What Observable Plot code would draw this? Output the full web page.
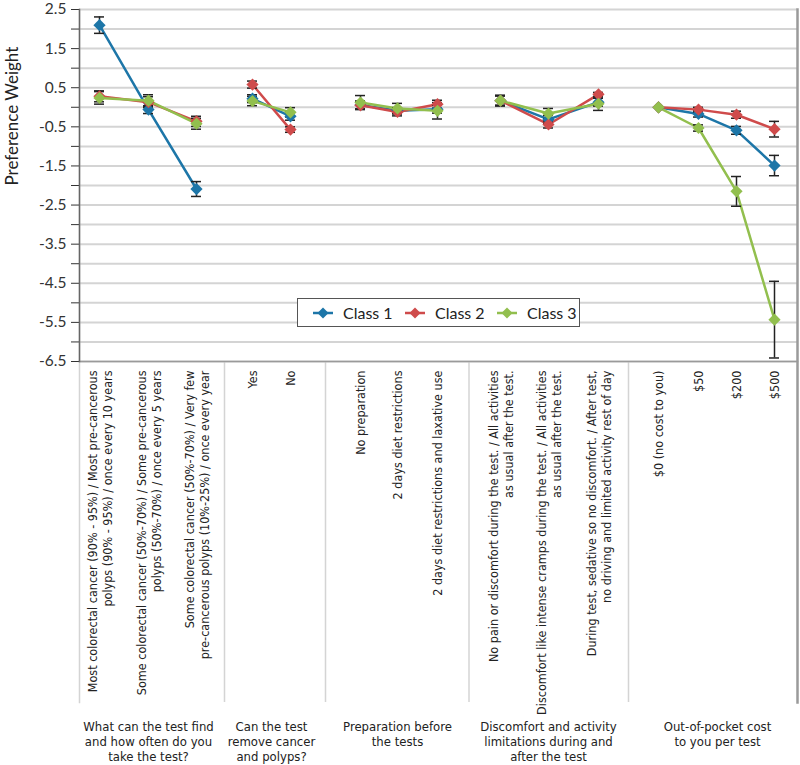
<!DOCTYPE html>
<html>
<head>
<meta charset="utf-8">
<script src="https://cdn.jsdelivr.net/npm/d3@7"></script>
<script src="https://cdn.jsdelivr.net/npm/@observablehq/plot@0.6"></script>
<style>
  body { margin: 0; background: #fff; }
  #wrap { position: relative; width: 800px; height: 765px; }
  #legend { position: absolute; left: 297px; top: 298px; width: 281px; height: 27px;
            border: 1.5px solid #555; background: #fff; font-family: Lato, sans-serif;
            font-size: 16px; color: #222; }
  .item { position: absolute; top: 0; height: 27px; display: flex; align-items: center; }
  .item span { margin-left: 9px; }
</style>
</head>
<body>
<div id="wrap"><div id="legend"></div></div>
<script>
// ---------- data ----------
const categories = [
  "Most colorectal cancer (90% - 95%) / Most pre-cancerous\npolyps (90% - 95%) / once every 10 years",
  "Some colorectal cancer (50%-70%) / Some pre-cancerous\npolyps (50%-70%) / once every 5 years",
  "Some colorectal cancer (50%-70%) / Very few\npre-cancerous polyps (10%-25%) / once every year",
  "Yes",
  "No",
  "No preparation",
  "2 days diet restrictions",
  "2 days diet restrictions and laxative use",
  "No pain or discomfort during the test. / All activities\nas usual after the test.",
  "Discomfort like intense cramps during the test. / All activities\nas usual after the test.",
  "During test, sedative so no discomfort. / After test,\nno driving and limited activity rest of day",
  "$0 (no cost to you)",
  "$50",
  "$200",
  "$500"
];
const groupNames = [
  "What can the test find\nand how often do you\ntake the test?",
  "Can the test\nremove cancer\nand polyps?",
  "Preparation before\nthe tests",
  "Discomfort and activity\nlimitations during and\nafter the test",
  "Out-of-pocket cost\nto you per test"
];
const groupSizes = [3, 2, 3, 3, 4];
const seriesNames = ["Class 1", "Class 2", "Class 3"];

const class1 = [2.10, -0.06, -2.09, 0.22, -0.23, 0.06, -0.09, -0.05, 0.17, -0.31, 0.13, 0, -0.17, -0.59, -1.49];
const class2 = [0.28, 0.13, -0.36, 0.58, -0.57, 0.05, -0.12, 0.08, 0.17, -0.44, 0.33, 0, -0.06, -0.19, -0.56];
const class3 = [0.24, 0.17, -0.42, 0.16, -0.13, 0.12, -0.03, -0.09, 0.17, -0.16, 0.09, 0, -0.53, -2.15, -5.43];

const err1 = [0.21, 0.10, 0.19, 0.10, 0.10, 0.10, 0.08, 0.10, 0.12, 0.10, 0.10, 0, 0.08, 0.10, 0.26];
const err2 = [0.14, 0.14, 0.13, 0.09, 0.07, 0.10, 0.10, 0.10, 0.12, 0.09, 0.05, 0, 0.06, 0.09, 0.20];
const err3 = [0.16, 0.15, 0.14, 0.12, 0.12, 0.18, 0.13, 0.21, 0.14, 0.13, 0.17, 0, 0.08, 0.38, 0.98];

const yTicks = d3.range(-6.5, 2.51, 0.5);

// ---------- styles ----------
const colors = ["#1d76a8", "#cf4b4b", "#92bf4e"];
// category slot positions (layout of the original, uneven slot widths)
const xRange = [99, 148, 196, 252, 290, 360, 397, 437, 500, 548, 598, 658, 698, 736, 774];
const condensed = "'Liberation Sans Narrow', 'DejaVu Sans Condensed', sans-serif";

// ---------- derived tables ----------
const values = [class1, class2, class3];
const errors = [err1, err2, err3];
const groupOf = groupSizes.flatMap((n, g) => Array(n).fill(g));
const rows = seriesNames.flatMap((s, k) => values[k].map((v, i) => ({
  series: s, i, group: groupOf[i], v, e: errors[k][i], lo: v - errors[k][i], hi: v + errors[k][i]
})));
const errRows = rows.filter(d => d.e > 0);
const starts = groupSizes.map((n, g) => d3.sum(groupSizes.slice(0, g)));
const bounds = starts.slice(1).map(s => s - 0.5);
const groupRows = groupNames.map((name, g) => ({name, x: starts[g] + (groupSizes[g] - 1) / 2}));
const catRows = categories.map((label, i) => ({label, i}));

const chart = Plot.plot({
  width: 800, height: 765,
  marginLeft: 79, marginRight: 3, marginTop: 9, marginBottom: 404,
  x: {type: "linear", domain: d3.range(categories.length), range: xRange, axis: null},
  y: {domain: [-6.5, 2.5], axis: null},
  color: {domain: seriesNames, range: colors},
  style: {fontFamily: "Lato, sans-serif", background: "white", overflow: "visible"},
  marks: [
    Plot.gridY(yTicks, {stroke: "#d4d4d4", strokeOpacity: 1, strokeWidth: 2}),
    Plot.ruleX(bounds, {stroke: "#d4d4d4", strokeWidth: 1.5, insetTop: 352, insetBottom: -341}),
    Plot.frame({anchor: "left", stroke: "#d4d4d4", strokeWidth: 1.5, insetBottom: -341}),
    Plot.frame({anchor: "bottom", stroke: "#9a9a9a", strokeWidth: 1.5}),
    Plot.frame({anchor: "right", stroke: "#9a9a9a", strokeWidth: 2.5, insetBottom: -341}),
    Plot.axisY(yTicks, {
      tickSize: 8, tickPadding: 5, fontSize: 15.5, color: "#333",
      tickFormat: d => Math.abs(d % 1) === 0.5 ? d.toFixed(1) : ""
    }),
    Plot.frame({anchor: "left", stroke: "#666", strokeWidth: 1.5}),
    Plot.line(rows, {x: "i", y: "v", z: d => d.series + "-" + d.group, stroke: "series", strokeWidth: 2.5}),
    Plot.ruleX(errRows, {x: "i", y1: "lo", y2: "hi", stroke: "#222", strokeWidth: 1.5}),
    Plot.ruleY(errRows, {y: "lo", x1: "i", x2: "i", insetLeft: -5, insetRight: -5, stroke: "#222", strokeWidth: 1.5}),
    Plot.ruleY(errRows, {y: "hi", x1: "i", x2: "i", insetLeft: -5, insetRight: -5, stroke: "#222", strokeWidth: 1.5}),
    Plot.dot(rows, {x: "i", y: "v", fill: "series", symbol: "diamond2", r: 5.5}),
    Plot.text(catRows, {
      x: "i", text: "label", frameAnchor: "bottom", dy: 9, rotate: -90, textAnchor: "end",
      lineAnchor: "middle", lineHeight: 1.2, fontSize: 12.5, fill: "#222", fontFamily: condensed
    }),
    Plot.text(groupRows, {
      x: "x", text: "name", frameAnchor: "bottom", dy: 359, lineAnchor: "top", lineHeight: 1.15,
      fontSize: 13, fill: "#222", fontFamily: condensed
    }),
    Plot.text(["Preference Weight"], {
      frameAnchor: "left", dx: -67, rotate: -90, fontSize: 17, fill: "#222"
    })
  ]
});
document.getElementById("wrap").prepend(chart);

// ---------- legend ----------
const legend = document.getElementById("legend");
seriesNames.forEach((name, k) => {
  const item = document.createElement("div");
  item.className = "item";
  item.style.left = (14 + k * 92) + "px";
  item.innerHTML = `<svg width="22" height="12"><line x1="1" y1="6" x2="21" y2="6" stroke="${colors[k]}" stroke-width="2.5"/>` +
    `<path d="M11 0.5 L16.5 6 L11 11.5 L5.5 6 Z" fill="${colors[k]}"/></svg><span>${name}</span>`;
  legend.appendChild(item);
});
</script>
</body>
</html>
